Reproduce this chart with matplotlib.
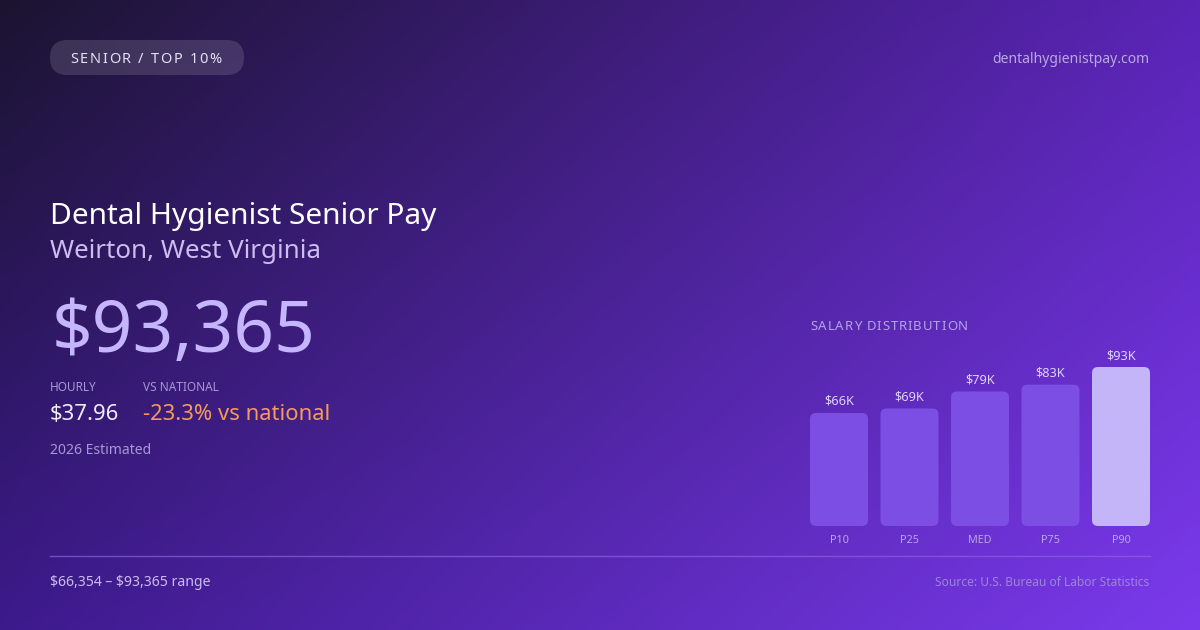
import numpy as np
import matplotlib
matplotlib.use("Agg")
import matplotlib.pyplot as plt
from matplotlib.patches import FancyBboxPatch
from matplotlib.colors import to_rgb

plt.rcParams['font.family'] = ['Noto Sans', 'DejaVu Sans']

# ---- data ----
categories = ["P10", "P25", "MED", "P75", "P90"]
values = [66354, 69000, 79000, 83000, 93365]
value_labels = ["$66K", "$69K", "$79K", "$83K", "$93K"]
badge = "SENIOR / TOP 10%"
site = "dentalhygienistpay.com"
title = "Dental Hygienist Senior Pay"
subtitle = "Weirton, West Virginia"
headline = "$93,365"
hourly = "$37.96"
vs_national = "-23.3% vs national"
estimate_note = "2026 Estimated"
range_note = "$66,354 \u2013 $93,365 range"
source_note = "Source: U.S. Bureau of Labor Statistics"
dist_title = "SALARY DISTRIBUTION"

W, H = 1200, 630
fig = plt.figure(figsize=(W / 100, H / 100), dpi=100)
renderer = fig.canvas.get_renderer()

# ---- background ----
bg = fig.add_axes([0, 0, 1, 1])
bg.set_xlim(0, W)
bg.set_ylim(H, 0)
bg.axis('off')
tl, tr = np.array(to_rgb('#1b1430')), np.array(to_rgb('#5a24b6'))
bl, br = np.array(to_rgb('#3d1a8c')), np.array(to_rgb('#7b3aec'))
u = np.linspace(0, 1, 240)[None, :, None]
v = np.linspace(0, 1, 126)[:, None, None]
img = (1 - u) * (1 - v) * tl + u * (1 - v) * tr + (1 - u) * v * bl + u * v * br
bg.imshow(img, extent=[0, W, H, 0], aspect='auto', interpolation='bilinear', zorder=0)


def fit_text(x, y, s, target_w, ha='left', **kw):
    t = bg.text(x, y, s, fontsize=10, ha=ha, va='baseline', parse_math=False, **kw)
    w = t.get_window_extent(renderer).width
    t.set_fontsize(10 * target_w / w)
    return t


def spaced_text(x, y, s, size, target_w, color, **kw):
    widths = []
    for ch in s:
        t = bg.text(0, 0, ch if ch != ' ' else 'a', fontsize=size, parse_math=False)
        w = t.get_window_extent(renderer).width
        if ch == ' ':
            t2 = bg.text(0, 0, 'a a', fontsize=size)
            w = t2.get_window_extent(renderer).width - 2 * w
            t2.remove()
        widths.append(w)
        t.remove()
    spacing = (target_w - sum(widths)) / (len(s) - 1)
    cx = x
    for ch, w in zip(s, widths):
        bg.text(cx, y, ch, fontsize=size, color=color, va='baseline', ha='left',
                parse_math=False, **kw)
        cx += w + spacing


# badge pill
pill = FancyBboxPatch((50, 40), 194, 35, boxstyle="round,pad=0,rounding_size=17.5",
                      facecolor=(1, 1, 1, 0.13), edgecolor='none', zorder=1)
bg.add_patch(pill)
spaced_text(70, 63, badge, 10.5, 152, '#e6def8')

fit_text(1149, 63, site, 157, ha='right', color='#b9a9e0')

fit_text(50, 224, title, 388, color='#ffffff')
fit_text(50, 258, subtitle, 271, color='#cdbdf0')
fit_text(52, 352, headline, 263, color='#c4b5fd')

fit_text(50, 391, "HOURLY", 47, color='#a797d4')
fit_text(143, 391, "VS NATIONAL", 76, color='#a797d4')
fit_text(50, 420, hourly, 69, color='#f1ecfd')
fit_text(143, 420, vs_national, 186, color='#f59a5a')
fit_text(50, 454, estimate_note, 101, color='#a797d4')

bg.plot([50, 1150], [556, 556], color='#8b63e0', lw=1, alpha=0.7, zorder=1)
fit_text(50, 586, range_note, 160, color='#cbbcf0')
fit_text(1149, 586, source_note, 214, ha='right', color='#9c84dc')

spaced_text(810, 330, dist_title, 9.5, 158, '#b5a3ea')

# ---- bar chart ----
ax_l, ax_r, ax_b, ax_t = 810, 1150, 526, 367
ax = fig.add_axes([ax_l / W, (H - ax_b) / H, (ax_r - ax_l) / W, (ax_b - ax_t) / H])
ax.patch.set_alpha(0)
bw = 58 / 70.5
xs = np.arange(len(categories))
ax.set_xlim(-bw / 2, len(categories) - 1 + bw / 2)
ax.set_ylim(0, max(values))
for s in ax.spines.values():
    s.set_visible(False)
ax.set_xticks([])
ax.set_yticks([])

colors = ['#7c4ee4'] * (len(categories) - 1) + ['#c4b5f8']
bars = ax.bar(xs, values, width=bw, color=colors)
x0, x1 = ax.get_xlim()
y0, y1 = ax.get_ylim()
px_x = (ax_r - ax_l) / (x1 - x0)
px_y = (ax_b - ax_t) / (y1 - y0)
r_px = 6
for b, c in zip(bars, colors):
    bx, by = b.get_x(), b.get_y()
    w, h = b.get_width(), b.get_height()
    b.set_visible(False)
    p = FancyBboxPatch((bx, by), w, h,
                       boxstyle=f"round,pad=0,rounding_size={r_px / px_x}",
                       mutation_aspect=px_x / px_y,
                       facecolor=c, edgecolor='none', clip_on=False)
    ax.add_patch(p)

for xi, v, lab in zip(xs, values, value_labels):
    ax.annotate(lab, (xi, v), xytext=(0, 8), textcoords='offset pixels',
                ha='center', va='baseline', fontsize=9.2, color='#ddd3fb',
                annotation_clip=False)
for xi, cat in zip(xs, categories):
    ax.annotate(cat, (xi, 0), xytext=(0, -17), textcoords='offset pixels',
                ha='center', va='baseline', fontsize=7.8, color='#b8a6ee',
                annotation_clip=False)

fig.savefig("out.png", dpi=100)
